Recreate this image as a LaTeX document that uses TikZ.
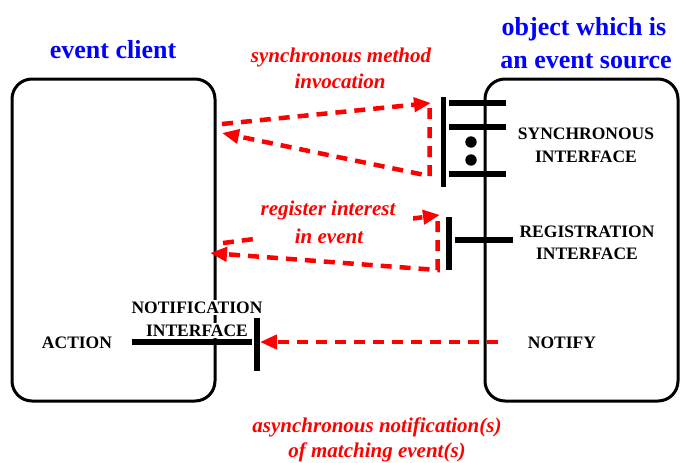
\documentclass[tikz,border=0pt]{standalone}
\usepackage{fontspec}
\setmainfont{Liberation Serif}
\usetikzlibrary{arrows.meta}
\definecolor{lblue}{RGB}{0,0,255}
\definecolor{lred}{RGB}{255,0,0}
\tikzset{
  boxstyle/.style={line width=3pt, rounded corners=20pt},
  bar/.style={line width=5.5pt},
  redflow/.style={lred, line width=4.5pt, dash pattern=on 11pt off 8pt,
    -{Triangle[length=17pt,width=14pt]}},
  title/.style={lblue, font=\fontsize{26}{33}\selectfont\bfseries, anchor=base, inner sep=0pt},
  flowlbl/.style={lred, font=\fontsize{21}{26}\selectfont\bfseries\itshape, anchor=base, inner sep=0pt},
  iflbl/.style={font=\fontsize{17.5}{23}\selectfont\bfseries, anchor=base, inner sep=0pt},
}
\begin{document}
\begin{tikzpicture}[x=1pt, y=-1pt]
\useasboundingbox (0,0) rectangle (680,463);
% boxes
\draw[boxstyle] (12,79) rectangle (215,401);
\draw[boxstyle] (485,79) rectangle (678,401);
% titles
\node[title] (tclient) at (113,58) {event client};
\node[title] (tsrc1) at (584,35) {object which is};
\node[title] (tsrc2) at (586,68) {an event source};
% synchronous interface
\coordinate (sv1) at (443.5,97); \coordinate (sv2) at (443.5,187);
\draw[bar] (sv1) -- (sv2);
\coordinate (sh1a) at (449,103); \coordinate (sh1b) at (506,103);
\coordinate (sh2a) at (449,127); \coordinate (sh2b) at (506,127);
\coordinate (sh3a) at (449,174); \coordinate (sh3b) at (506,174);
\draw[bar] (sh1a) -- (sh1b);
\draw[bar] (sh2a) -- (sh2b);
\draw[bar] (sh3a) -- (sh3b);
\fill (471,142) circle (5.7pt);
\fill (471,160) circle (5.7pt);
\node[iflbl] (sync1) at (586,139) {SYNCHRONOUS};
\node[iflbl] (sync2) at (586,162) {INTERFACE};
% registration interface
\coordinate (rv1) at (449,217); \coordinate (rv2) at (449,270);
\draw[bar] (rv1) -- (rv2);
\coordinate (rh1) at (455,240); \coordinate (rh2) at (513,240);
\draw[bar] (rh1) -- (rh2);
\node[iflbl] (reg1) at (587,237) {REGISTRATION};
\node[iflbl] (reg2) at (587,259) {INTERFACE};
% notification interface
\node[iflbl, fill=white, inner sep=1.5pt] (not1) at (197,313) {NOTIFICATION};
\node[iflbl, fill=white, inner sep=1.5pt] (not2) at (197,336) {INTERFACE};
\coordinate (nh1) at (132,342); \coordinate (nh2) at (252,342);
\draw[bar] (nh1) -- (nh2);
\coordinate (nv1) at (257,318); \coordinate (nv2) at (257,371);
\draw[bar] (nv1) -- (nv2);
\node[iflbl] (action) at (77,348) {ACTION};
\node[iflbl] (notify) at (562,348) {NOTIFY};
% synchronous method invocation
\coordinate (s0) at (222,124); \coordinate (s1) at (431,103);
\coordinate (s2) at (429.5,108); \coordinate (s3) at (429.5,176); \coordinate (s4) at (222,133);
\draw[redflow] (s0) -- (s1);
\draw[redflow] (s2) -- (s3) -- (s4);
\node[flowlbl] (smi1) at (341,62) {synchronous method};
\node[flowlbl] (smi2) at (340,88) {invocation};
% register interest
\coordinate (r0) at (223,243); \coordinate (r1) at (440,215);
\coordinate (r2) at (437.5,221); \coordinate (r3) at (437.5,270); \coordinate (r4) at (210,253);
\draw[redflow] (r0) -- (r1);
\draw[redflow] (r2) -- (r3) -- (r4);
\fill[white] (255,202) rectangle (413,247);
\node[flowlbl] (rie1) at (328,215) {register interest};
\node[flowlbl] (rie2) at (329,243) {in event};
% asynchronous notification
\coordinate (a0) at (498,342); \coordinate (a1) at (260,342);
\draw[redflow] (a0) -- (a1);
\node[flowlbl] (an1) at (377,432) {asynchronous notification(s)};
\node[flowlbl] (an2) at (377,457) {of matching event(s)};
\end{tikzpicture}
\end{document}
